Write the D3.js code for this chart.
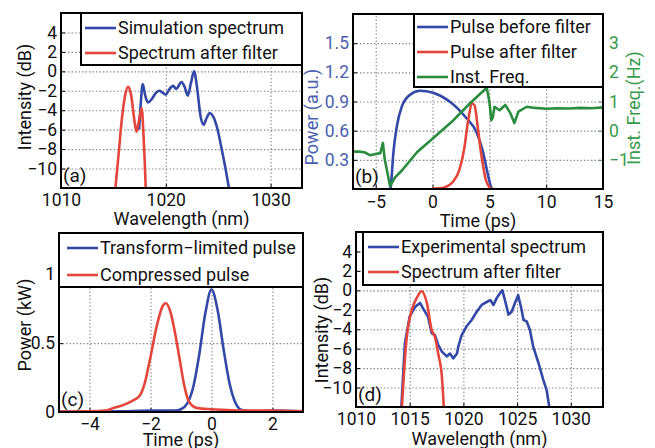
<!DOCTYPE html>
<html>
<head>
<meta charset="utf-8">
<script src="https://cdn.jsdelivr.net/npm/d3@7"></script>
<style>
body { margin: 0; background: #fff; }
svg text { font-family: Roboto, "DejaVu Sans", sans-serif; }
</style>
</head>
<body>
<div id="fig"></div>
<script>
// ---- data ----
// (a) simulated spectrum [wavelength nm, intensity dB]
const simSpectrum = [[1017.45,-6],[1017.6,-3.5],[1017.8,-1.3],[1018.0,-2.3],[1018.3,-3.2],[1018.7,-2.8],
  [1019.0,-2.3],[1019.4,-2.0],[1019.7,-2.2],[1020.0,-2.4],[1020.3,-1.9],[1020.7,-1.5],[1021.0,-1.8],
  [1021.5,-1.1],[1021.8,-1.6],[1022.1,-2.5],[1022.4,-1.2],[1022.7,0],[1023.0,-1.8],[1023.3,-4.5],
  [1023.6,-5.5],[1023.9,-4.8],[1024.2,-4.3],[1024.5,-4.6],[1024.9,-5.8],[1025.3,-7.8],[1025.7,-10],[1026.1,-12.5]];
const simFiltered = [[1015.15,-12.5],[1015.5,-8.5],[1015.8,-5],[1016.1,-2.6],[1016.4,-1.6],[1016.7,-2.5],
  [1017.0,-5],[1017.2,-6.2],[1017.45,-5],[1017.7,-3.8],[1017.85,-6],[1018.0,-9.5],[1018.1,-12.5]];

// (b) pulses [time ps, power a.u.] and instantaneous frequency [time ps, Hz]
const pulseBefore = [[-3.72,0],[-3.68,0.02],[-3.45,0.37],[-3.15,0.64],[-2.7,0.85],[-1.97,0.97],[-1.1,1.01],
  [0.04,0.99],[1.5,0.9],[2.97,0.73],[3.85,0.59],[4.4,0.4],[4.85,0.16],[5.15,0.02],[5.25,0]];
const pulseAfter = [[0.0,0.005],[0.8,0.01],[1.3,0.03],[1.8,0.075],[2.37,0.2],[2.81,0.43],[3.1,0.68],
  [3.5,0.88],[3.7,0.86],[3.97,0.64],[4.27,0.37],[4.7,0.09],[5.0,0.02],[5.2,0]];
const instFreq = [[-7,-0.72],[-6.5,-0.72],[-6,-0.74],[-5.5,-0.84],[-5.0,-0.8],[-4.6,-0.77],[-4.45,-0.55],
  [-4.37,-0.42],[-4.2,-1.0],[-3.9,-1.58],[-3.74,-1.9],[-3.3,-1.6],[-2.66,-1.35],[-1.37,-0.74],[0.37,-0.15],
  [1.84,0.36],[3.3,0.94],[4.77,1.47],[5.0,1.0],[5.17,0.36],[5.3,0.45],[5.45,0.82],[5.9,0.7],[6.4,0.88],
  [6.85,0.6],[7.2,0.26],[7.55,0.65],[8.3,0.82],[9,0.78],[10,0.75],[11,0.77],[12,0.76],[13,0.78],[14,0.77],[15,0.8]];

// (c) compressed pulses [time ps, power kW]
const tlPulse = [[-5,0.002],[-3,0.005],[-2,0.01],[-1.2,0.01],[-1,0.02],[-0.8,0.06],[-0.6,0.18],[-0.4,0.42],
  [-0.2,0.72],[0,0.89],[0.2,0.74],[0.4,0.45],[0.6,0.2],[0.8,0.06],[1.0,0.015],[1.5,0.005],[2,0.01],[3,0.005]];
const compPulse = [[-5,0.003],[-4,0.005],[-3.5,0.01],[-3.2,0.03],[-2.9,0.05],[-2.6,0.08],[-2.35,0.12],
  [-2.2,0.2],[-2.0,0.4],[-1.8,0.62],[-1.6,0.77],[-1.5,0.79],[-1.35,0.73],[-1.2,0.58],[-1.05,0.39],
  [-0.9,0.2],[-0.75,0.08],[-0.5,0.03],[0,0.02],[0.5,0.015],[1,0.01],[2,0.01],[3,0.005]];

// (d) measured spectra [wavelength nm, intensity dB]
const expSpectrum = [[1014.2,-12.5],[1014.55,-5.5],[1015.0,-2.7],[1015.5,-1.7],[1015.96,-1.3],[1016.27,-1.9],
  [1016.7,-2.7],[1017.05,-4.4],[1017.35,-4.6],[1017.65,-5.6],[1018.0,-6.3],[1018.45,-6.8],[1018.75,-6.5],
  [1019.06,-7.0],[1019.4,-6.5],[1019.55,-5.7],[1019.84,-4.6],[1020.3,-3.7],[1020.77,-3.05],[1021.24,-2.2],
  [1021.7,-1.5],[1022.17,-1.2],[1022.5,-1.0],[1022.8,-1.5],[1023.1,-0.8],[1023.4,-0.3],[1023.63,0.0],
  [1023.87,-1.0],[1024.2,-2.5],[1024.5,-2.2],[1024.8,-1.3],[1025.1,-0.5],[1025.4,-1.9],[1025.6,-3.05],
  [1025.9,-3.2],[1026.2,-4.1],[1026.5,-5.8],[1027.0,-7.5],[1027.44,-9.2],[1027.76,-10.3],[1027.9,-11.3],[1028.07,-12.5]];
const expFiltered = [[1014.25,-12.5],[1014.7,-5.1],[1015.2,-2.0],[1015.65,-0.8],[1016.1,-0.1],[1016.6,-1.3],
  [1017.05,-4.1],[1017.35,-4.8],[1017.65,-6.5],[1018.0,-8.9],[1018.2,-12.5]];

// ticks
const wlTicksA = [1010, 1020, 1030];
const wlTicksD = [1010, 1015, 1020, 1025, 1030];
const dbTicks = [-10, -8, -6, -4, -2, 0, 2, 4];
const timeTicksB = [-5, 0, 5, 10, 15];
const powerTicksB = [0.3, 0.6, 0.9, 1.2, 1.5];
const freqTicksB = [-1, 0, 1, 2, 3];
const timeTicksC = [-4, -2, 0, 2];
const powerTicksC = [0, 0.5, 1];

// ---- drawing ----
const blue = "#3448a8", red = "#e4463c", green = "#2b8c40";
const fmt = d => String(d).replace("-", "\u2212");
const svg = d3.select("#fig").append("svg").attr("width", 655).attr("height", 448);

function drawPanel(p) {
  const g = svg.append("g");
  const b = p.box;
  const x = d3.scaleLinear().domain(p.xDomain).range([b.left, b.right]);
  const y = d3.scaleLinear().domain(p.yDomain).range([b.bottom, b.top]);
  const yR = p.yRight ? d3.scaleLinear().domain(p.yRight.domain).range([b.bottom, b.top]) : null;

  // dotted grid
  g.append("g").attr("transform", `translate(0,${b.bottom})`)
    .call(d3.axisBottom(x).tickValues(p.xTicks).tickSize(-(b.bottom - b.top)).tickFormat(""))
    .call(s => s.select(".domain").remove())
    .selectAll("line").attr("stroke", "#8c8c8c").attr("stroke-width", 1.1).attr("stroke-dasharray", "1.5,2");
  g.append("g").attr("transform", `translate(${b.left},0)`)
    .call(d3.axisLeft(y).tickValues(p.yTicks).tickSize(-(b.right - b.left)).tickFormat(""))
    .call(s => s.select(".domain").remove())
    .selectAll("line").attr("stroke", "#8c8c8c").attr("stroke-width", 1.1).attr("stroke-dasharray", "1.5,2");

  // axes with inward ticks
  const xa = g.append("g").attr("transform", `translate(0,${b.bottom})`)
    .call(d3.axisBottom(x).tickValues(p.xTicks).tickFormat(fmt).tickSizeInner(-4).tickSizeOuter(0).tickPadding(p.xPad));
  const ya = g.append("g").attr("transform", `translate(${b.left},0)`)
    .call(d3.axisLeft(y).tickValues(p.yTicks).tickFormat(fmt).tickSizeInner(-4).tickSizeOuter(0).tickPadding(4));
  [xa, ya].forEach(a => {
    a.select(".domain").remove();
    a.selectAll("text").attr("font-size", 17.5).attr("fill", "#111");
  });
  if (p.yColor) ya.selectAll("text").attr("fill", p.yColor);
  if (yR) {
    const ra = g.append("g").attr("transform", `translate(${b.right},0)`)
      .call(d3.axisRight(yR).tickValues(p.yRight.ticks).tickFormat(fmt).tickSizeInner(-4).tickSizeOuter(0).tickPadding(6));
    ra.select(".domain").remove();
    ra.selectAll("text").attr("font-size", 17.5).attr("fill", p.yRight.color);
    ra.selectAll("line").attr("stroke", p.yRight.color);
  }

  // curves
  const clipId = "clip" + p.id;
  svg.append("clipPath").attr("id", clipId).append("rect")
    .attr("x", b.left).attr("y", b.top).attr("width", b.right - b.left).attr("height", b.bottom - b.top);
  p.series.forEach(s => {
    const sy = s.right ? yR : y;
    g.append("path").datum(s.data)
      .attr("clip-path", `url(#${clipId})`)
      .attr("fill", "none").attr("stroke", s.color).attr("stroke-width", 2.6)
      .attr("stroke-linejoin", "round")
      .attr("d", d3.line().x(d => x(d[0])).y(d => sy(d[1])).curve(s.curve || d3.curveMonotoneX));
  });

  // frame
  g.append("rect").attr("x", b.left).attr("y", b.top)
    .attr("width", b.right - b.left).attr("height", b.bottom - b.top)
    .attr("fill", "none").attr("stroke", "#000").attr("stroke-width", 2);

  // legend
  const L = p.legend;
  g.append("rect").attr("x", L.left).attr("y", b.top).attr("width", b.right - L.left).attr("height", L.bottom - b.top)
    .attr("fill", "#fff").attr("stroke", "#000").attr("stroke-width", 2);
  p.series.forEach((s, i) => {
    const ry = L.rows[i];
    g.append("line").attr("x1", L.lineX).attr("x2", L.lineX + 31).attr("y1", ry).attr("y2", ry)
      .attr("stroke", s.color).attr("stroke-width", 2.6);
    g.append("text").attr("x", L.lineX + 33).attr("y", ry).attr("dy", "0.36em")
      .attr("font-size", 18).attr("fill", "#111").text(s.name);
  });

  // panel letter
  g.append("text").attr("x", b.left + 2).attr("y", b.bottom - 6)
    .attr("font-size", 19).attr("fill", "#111").text(p.letter);

  // axis titles
  g.append("text").attr("x", (b.left + b.right) / 2).attr("y", p.xLabelY).attr("dy", "0.36em")
    .attr("text-anchor", "middle").attr("font-size", 18).attr("fill", "#111").text(p.xLabel);
  g.append("text").attr("transform", `translate(${p.yLabelX},${p.yLabelMid}) rotate(-90)`)
    .attr("dy", "0.36em").attr("text-anchor", "middle").attr("font-size", 18)
    .attr("fill", p.yColor || "#111").text(p.yLabel);
  if (yR) {
    g.append("text").attr("transform", `translate(${p.yRight.labelX},${p.yRight.labelMid}) rotate(-90)`)
      .attr("dy", "0.36em").attr("text-anchor", "middle").attr("font-size", 18)
      .attr("fill", p.yRight.color).text(p.yRight.label);
  }
}

drawPanel({
  id: "a", letter: "(a)", box: { left: 61, right: 302, top: 13, bottom: 188 },
  xDomain: [1010, 1033], yDomain: [-12, 6], xTicks: wlTicksA, yTicks: dbTicks, xPad: 6,
  xLabel: "Wavelength (nm)", xLabelY: 219, yLabel: "Intensity (dB)", yLabelX: 25, yLabelMid: 97,
  legend: { left: 81, bottom: 65, lineX: 85, rows: [28, 53] },
  series: [
    { name: "Simulation spectrum", color: blue, data: simSpectrum },
    { name: "Spectrum after filter", color: red, data: simFiltered }
  ]
});

drawPanel({
  id: "b", letter: "(b)", box: { left: 353, right: 603, top: 14, bottom: 189 },
  xDomain: [-7, 15], yDomain: [0, 1.8], xTicks: timeTicksB, yTicks: powerTicksB, xPad: 7,
  xLabel: "Time (ps)", xLabelY: 221, yLabel: "Power (a.u.)", yLabelX: 312, yLabelMid: 117, yColor: "#4a5fae",
  yRight: { domain: [-2, 4], ticks: freqTicksB, color: "#3a9a4c", label: "Inst. Freq.(Hz)", labelX: 634, labelMid: 108 },
  legend: { left: 414, bottom: 87, lineX: 417, rows: [27, 52, 77] },
  series: [
    { name: "Pulse before filter", color: blue, data: pulseBefore },
    { name: "Pulse after filter", color: red, data: pulseAfter },
    { name: "Inst. Freq.", color: green, data: instFreq, right: true, curve: d3.curveLinear }
  ]
});

drawPanel({
  id: "c", letter: "(c)", box: { left: 59, right: 303, top: 233, bottom: 412 },
  xDomain: [-5, 3], yDomain: [0, 1.3], xTicks: timeTicksC, yTicks: powerTicksC, xPad: 6,
  xLabel: "Time (ps)", xLabelY: 440, yLabel: "Power (kW)", yLabelX: 25, yLabelMid: 325,
  legend: { left: 59, bottom: 287, lineX: 67, rows: [248, 275] },
  series: [
    { name: "Transform\u2212limited pulse", color: blue, data: tlPulse },
    { name: "Compressed pulse", color: red, data: compPulse }
  ]
});

drawPanel({
  id: "d", letter: "(d)", box: { left: 356, right: 603, top: 232, bottom: 407 },
  xDomain: [1010, 1033], yDomain: [-12, 6], xTicks: wlTicksD, yTicks: dbTicks, xPad: 6,
  xLabel: "Wavelength (nm)", xLabelY: 439, yLabel: "Intensity (dB)", yLabelX: 322, yLabelMid: 330,
  legend: { left: 363, bottom: 285, lineX: 368, rows: [247, 272] },
  series: [
    { name: "Experimental spectrum", color: blue, data: expSpectrum, curve: d3.curveLinear },
    { name: "Spectrum after filter", color: red, data: expFiltered }
  ]
});
</script>
</body>
</html>
